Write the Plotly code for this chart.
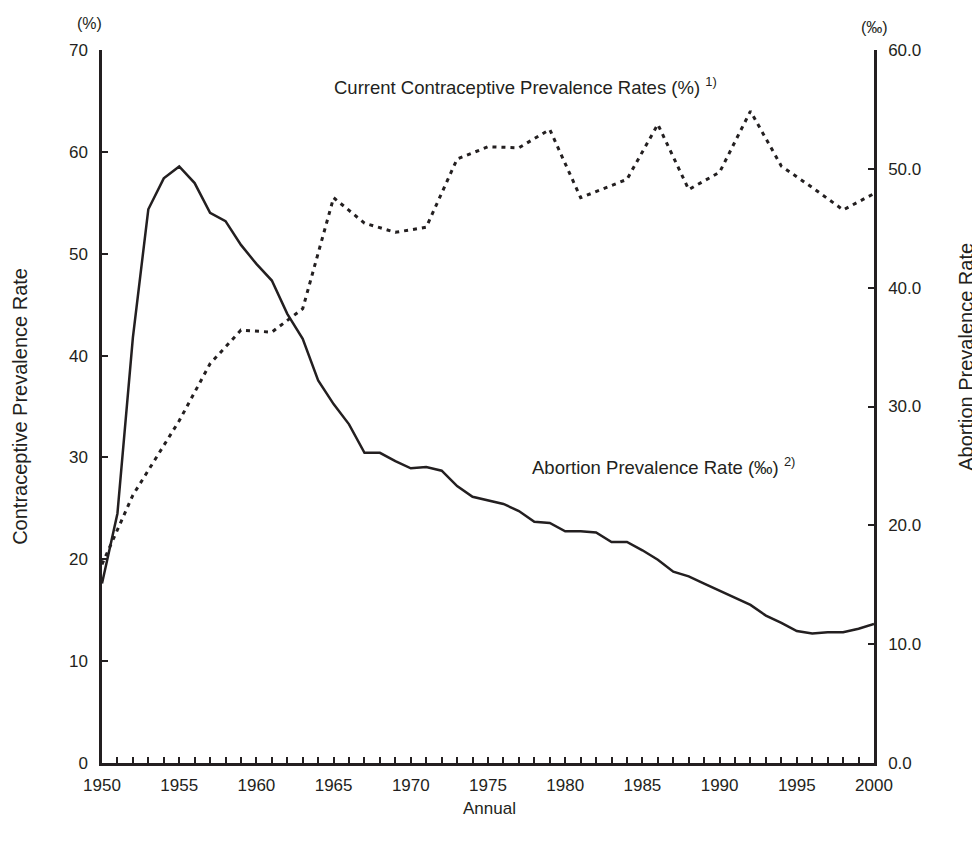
import plotly.graph_objects as go

# ---- data ----
abortion_years = list(range(1950, 2001))
abortion_rate = [15.1, 21.0, 35.8, 46.6, 49.2, 50.2, 48.8, 46.3, 45.6, 43.6,
                 42.0, 40.6, 37.8, 35.7, 32.2, 30.2, 28.5, 26.1, 26.1, 25.4,
                 24.8, 24.9, 24.6, 23.3, 22.4, 22.1, 21.8, 21.2, 20.3, 20.2,
                 19.5, 19.5, 19.4, 18.6, 18.6, 17.9, 17.1, 16.1, 15.7, 15.1,
                 14.5, 13.9, 13.3, 12.4, 11.8, 11.1, 10.9, 11.0, 11.0, 11.3,
                 11.7]

contra_years = [1950, 1952, 1955, 1957, 1959, 1961, 1963, 1965, 1967, 1969,
                1971, 1973, 1975, 1977, 1979, 1981, 1984, 1986, 1988, 1990,
                1992, 1994, 1996, 1998, 2000]
contra_rate = [19.5, 26.3, 33.6, 39.2, 42.5, 42.3, 44.6, 55.5, 53.0, 52.1,
               52.6, 59.3, 60.5, 60.4, 62.2, 55.5, 57.3, 62.7, 56.3, 58.0,
               64.0, 58.6, 56.5, 54.3, 55.9]

x_ticks = [1950, 1955, 1960, 1965, 1970, 1975, 1980, 1985, 1990, 1995, 2000]
left_ticks = [0, 10, 20, 30, 40, 50, 60, 70]
right_ticks = [0, 10, 20, 30, 40, 50, 60]

INK = "#231f20"
FONT = "Liberation Sans, Arial, sans-serif"

# page is offset by the 8px body margin
OFF = 8
W, H = 970, 819
PL, PR, PT, PB = 102.3, 874.3, 50.0, 762.7   # plot area in page pixels

fig = go.Figure()
fig.add_trace(go.Scatter(
    x=contra_years, y=contra_rate, mode="lines", yaxis="y",
    line=dict(color=INK, width=3, dash="4px,5px"), showlegend=False))
fig.add_trace(go.Scatter(
    x=abortion_years, y=abortion_rate, mode="lines", yaxis="y2",
    line=dict(color=INK, width=2.5), showlegend=False))

fig.update_layout(
    width=W, height=H,
    margin=dict(l=PL - OFF, r=W - (PR - OFF), t=PT - OFF, b=H - (PB - OFF), pad=0),
    paper_bgcolor="white", plot_bgcolor="white",
    font=dict(family=FONT, size=17, color=INK),
    xaxis=dict(
        range=[1950, 2000], tickvals=x_ticks,
        showgrid=False, zeroline=False,
        showline=True, linecolor=INK, linewidth=2.5,
        ticks="inside", ticklen=6, tickwidth=1.5, tickcolor=INK,
        ticklabelstandoff=5,
        minor=dict(ticks="inside", dtick=1, ticklen=6, tickwidth=1.5,
                   tickcolor=INK, showgrid=False),
    ),
    yaxis=dict(
        range=[0, 70], tickvals=left_ticks,
        showgrid=False, zeroline=False,
        showline=True, linecolor=INK, linewidth=2.5,
        ticks="inside", ticklen=6, tickwidth=1.5, tickcolor=INK,
        ticklabelstandoff=8,
    ),
    yaxis2=dict(
        range=[0, 60], tickvals=right_ticks, tickformat=".1f",
        overlaying="y", side="right", anchor="x",
        showgrid=False, zeroline=False,
        showline=True, linecolor=INK, linewidth=2.5,
        ticks="inside", ticklen=6, tickwidth=1.5, tickcolor=INK,
        ticklabelstandoff=8,
    ),
)

def px_x(p):
    return (p - PL) / (PR - PL)

def px_y(p):
    return (PB - p) / (PB - PT)

annots = [
    dict(text="Current Contraceptive Prevalence Rates (%) <sup>1)</sup>",
         x=px_x(332), y=px_y(86), xanchor="left", size=18.5),
    dict(text="Abortion Prevalence Rate (‰) <sup>2)</sup>",
         x=px_x(530), y=px_y(466), xanchor="left", size=18.5),
    dict(text="(%)", x=px_x(90), y=px_y(24), xanchor="center", size=16),
    dict(text="(‰)", x=px_x(875), y=px_y(28), xanchor="center", size=16),
    dict(text="Annual", x=px_x(490), y=px_y(808), xanchor="center", size=17),
]
for a in annots:
    fig.add_annotation(text=a["text"], x=a["x"], y=a["y"], xref="paper", yref="paper",
                       xanchor=a["xanchor"], yanchor="middle", showarrow=False,
                       font=dict(family=FONT, size=a["size"], color=INK))

fig.add_annotation(text="Contraceptive Prevalence Rate", textangle=-90,
                   x=px_x(20), y=px_y(406), xref="paper", yref="paper",
                   xanchor="center", yanchor="middle", showarrow=False,
                   font=dict(family=FONT, size=20, color=INK))
fig.add_annotation(text="Abortion Prevalence Rate", textangle=-90,
                   x=px_x(966), y=px_y(357), xref="paper", yref="paper",
                   xanchor="center", yanchor="middle", showarrow=False,
                   font=dict(family=FONT, size=20, color=INK))

fig.write_html("out.html")
